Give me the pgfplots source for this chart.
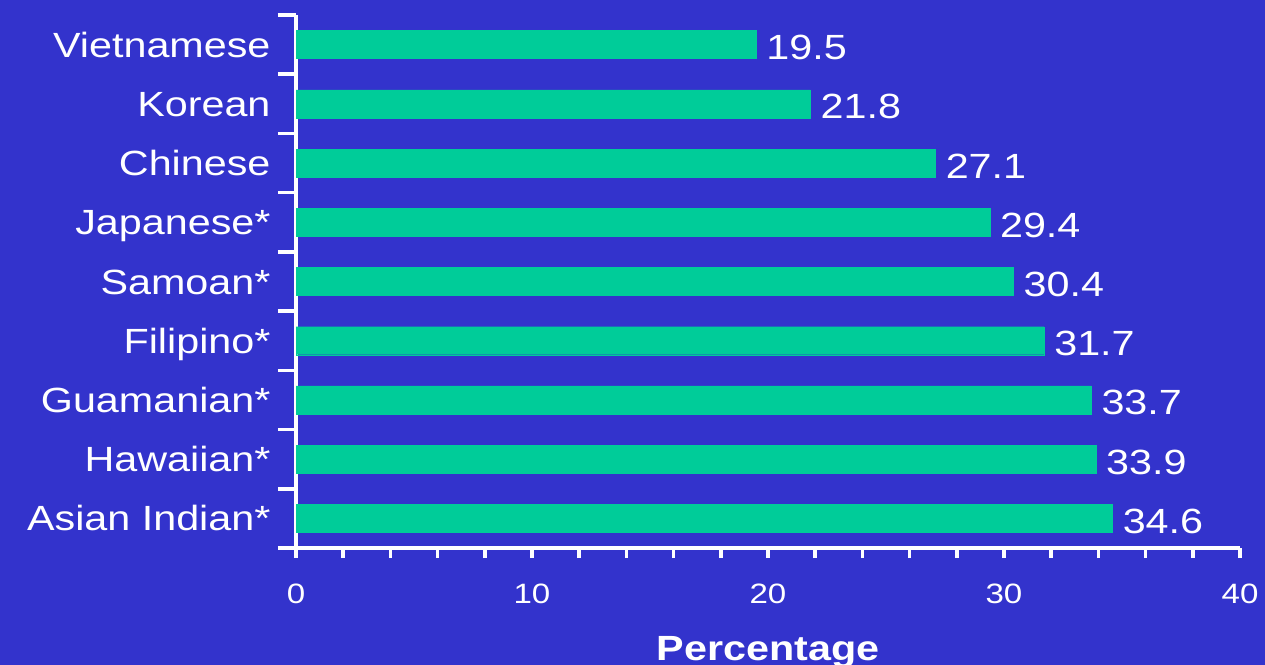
\documentclass[border=0pt]{standalone}
\usepackage{fontspec}
\setmainfont{Liberation Sans}[FakeStretch=1.18]
\usepackage{pgfplots}
\pgfplotsset{compat=1.18}
\definecolor{bg}{RGB}{51,51,204}
\definecolor{barc}{RGB}{0,204,153}
\begin{document}
\begin{tikzpicture}
\fill[bg] (0,0) rectangle (1265bp,665bp);
\useasboundingbox (0,0) rectangle (1265bp,665bp);
\begin{axis}[
 at={(296bp,117bp)}, anchor=south west,
 scale only axis, width=944bp, height=533bp,
 xbar, bar width=28bp,
 xmin=0, xmax=40, ymin=-0.5, ymax=8.5,
 axis lines*=left,
 axis line style={white, line width=3.5bp},
 xtick={0,2,...,40},
 xticklabels={0,,,,,10,,,,,20,,,,,30,,,,,40},
 ytick={0,...,8},
 yticklabels={Asian Indian*,Hawaiian*,Guamanian*,Filipino*,Samoan*,Japanese*,Chinese,Korean,Vietnamese},
 minor ytick={-0.5,0.5,...,8.5},
 tick align=outside,
 major tick length=10bp, minor tick length=18bp,
 every tick/.style={white, line width=3.5bp},
 major y tick style={draw=none},
 xticklabel style={font=\fontsize{28bp}{28bp}\selectfont, text=white, yshift=-22bp},
 yticklabel style={font=\fontsize{35bp}{35bp}\selectfont, text=white, anchor=east, text height=25bp, text depth=0pt, xshift=-12bp},
 /pgf/number format/assume math mode=true,
 xlabel={Percentage},
 xlabel style={at={(axis description cs:0.5,0)}, anchor=base, yshift=-112bp, font=\fontsize{35bp}{35bp}\selectfont\bfseries, text=white},
 nodes near coords={\pgfmathprintnumber[fixed,precision=1,fixed zerofill]{\pgfplotspointmeta}},
 every node near coord/.append style={text=white, font=\fontsize{35bp}{35bp}\selectfont, anchor=west, inner sep=0pt, xshift=10bp, yshift=-3bp},
 clip=false,
]
\addplot[fill=barc, draw=barc] coordinates {(34.6,0) (33.9,1) (33.7,2) (31.7,3) (30.4,4) (29.4,5) (27.1,6) (21.8,7) (19.5,8)};
\end{axis}
\end{tikzpicture}
\end{document}
